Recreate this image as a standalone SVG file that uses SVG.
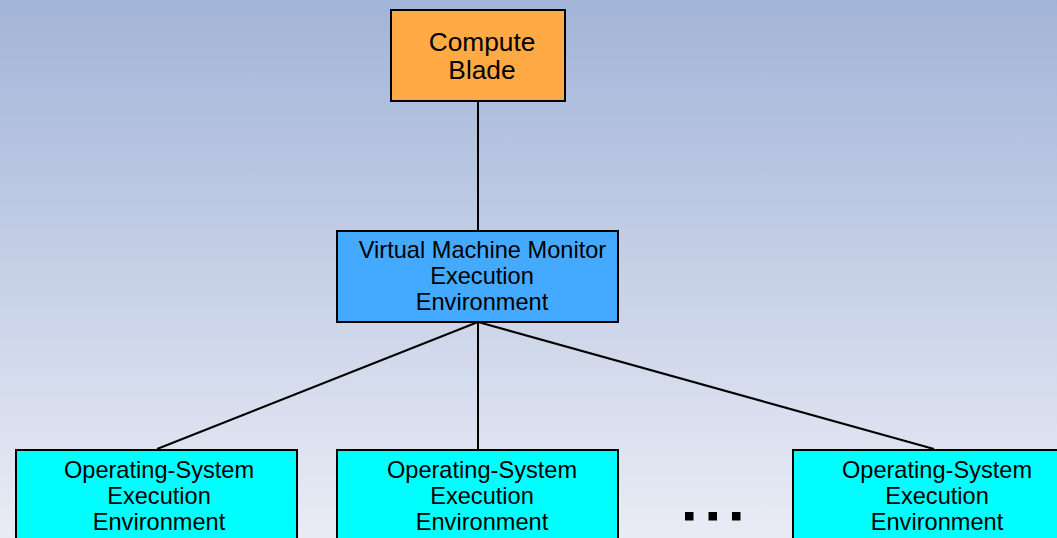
<svg xmlns="http://www.w3.org/2000/svg" width="1057" height="538" viewBox="0 0 1057 538">
<defs>
<linearGradient id="bg" x1="0" y1="0" x2="0" y2="1">
<stop offset="0" stop-color="#a2b4d8"/>
<stop offset="1" stop-color="#e9ecf5"/>
</linearGradient>
<style>
.box{stroke:#000;stroke-width:2}
.t{font-family:"Liberation Sans",Arial,sans-serif;fill:#000;text-anchor:middle}
.conn{stroke:#000;stroke-width:2;fill:none}
</style>
</defs>
<rect x="0" y="0" width="1057" height="538" fill="url(#bg)"/>
<g id="connectors">
<line class="conn" x1="478" y1="102" x2="478" y2="230"/>
<line class="conn" x1="478" y1="322" x2="157" y2="449"/>
<line class="conn" x1="478" y1="322" x2="478" y2="449"/>
<line class="conn" x1="478" y1="322" x2="934" y2="449"/>
</g>
<g id="compute-blade">
<rect class="box" x="391" y="10" width="174" height="91" fill="#ffaa44"/>
<text class="t" x="482" y="51" font-size="26.3">Compute</text>
<text class="t" x="482" y="79" font-size="26.3">Blade</text>
</g>
<g id="vmm">
<rect class="box" x="337" y="231" width="281" height="91" fill="#44aaff"/>
<text class="t" x="482.5" y="257.5" font-size="23.6">Virtual Machine Monitor</text>
<text class="t" x="482" y="284" font-size="23.6">Execution</text>
<text class="t" x="482" y="309.5" font-size="23.6">Environment</text>
</g>
<g id="os1">
<rect class="box" x="16" y="450" width="281" height="100" fill="#00ffff"/>
<text class="t" x="159" y="477.5" font-size="23.6">Operating-System</text>
<text class="t" x="159" y="504" font-size="23.6">Execution</text>
<text class="t" x="159" y="529.5" font-size="23.6">Environment</text>
</g>
<g id="os2">
<rect class="box" x="337" y="450" width="281" height="100" fill="#00ffff"/>
<text class="t" x="482" y="477.5" font-size="23.6">Operating-System</text>
<text class="t" x="482" y="504" font-size="23.6">Execution</text>
<text class="t" x="482" y="529.5" font-size="23.6">Environment</text>
</g>
<g id="os3">
<rect class="box" x="793" y="450" width="281" height="100" fill="#00ffff"/>
<text class="t" x="937" y="477.5" font-size="23.6">Operating-System</text>
<text class="t" x="937" y="504" font-size="23.6">Execution</text>
<text class="t" x="937" y="529.5" font-size="23.6">Environment</text>
</g>
<g id="ellipsis" fill="#000">
<rect x="685" y="512" width="8.5" height="8.5"/>
<rect x="708.5" y="512" width="8.5" height="8.5"/>
<rect x="732" y="512" width="8.5" height="8.5"/>
</g>
</svg>
